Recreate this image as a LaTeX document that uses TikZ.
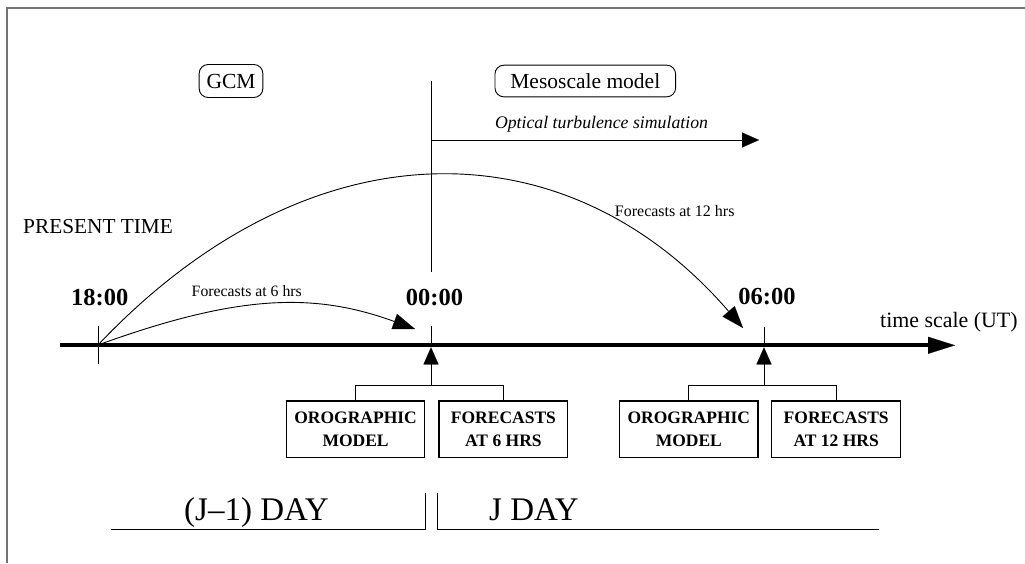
\documentclass[tikz,border=0pt]{standalone}
\usepackage{fontspec}
\setmainfont{Liberation Serif}
\usetikzlibrary{arrows.meta}
\begin{document}
\begin{tikzpicture}[x=1pt,y=-1pt,
  thin/.style={line width=0.9pt},
  rbox/.style={draw, line width=0.9pt, rounded corners=9pt, inner sep=0pt, font=\fontsize{21.5}{25}\selectfont},
  mbox/.style={draw, line width=1.3pt, inner sep=0pt, minimum height=56.3pt, align=center,
     font=\fontsize{17.5}{23.3}\selectfont\bfseries},
  lbl/.style={inner sep=0pt, anchor=base},
  timelbl/.style={lbl, font=\fontsize{24.5}{28}\selectfont\bfseries},
  daylbl/.style={lbl, font=\fontsize{33}{38}\selectfont},
  arcarrow/.style={line width=0.9pt, -{Triangle[length=22pt,width=16pt,line width=0.1pt]}},
  uparrow/.style={line width=0.9pt, -{Triangle[length=17pt,width=15pt,line width=0.1pt]}},
  optarrow/.style={line width=0.9pt, -{Triangle[length=17pt,width=15pt,line width=0.1pt]}},
  axisarrow/.style={line width=4pt, -{Triangle[length=27pt,width=17pt,line width=0.1pt]}}
]
\useasboundingbox (0,0) rectangle (1025,563);
% frame
\draw[line width=2pt, black!55] (6.7,563) -- (6.7,8.3) -- (1025,8.3);

% model boxes
\node[rbox, minimum width=63.7pt, minimum height=33pt] (gcm) at (231,81) {GCM};
\node[rbox, minimum width=180.7pt, minimum height=31.7pt] (meso) at (585.3,81) {Mesoscale model};

% coordinates
\coordinate (a0) at (60,345.3);
\coordinate (a1) at (955,345.3);
\coordinate (t18) at (98,345);
\coordinate (t00) at (431,345);
\coordinate (t06) at (764,345);
\coordinate (e6) at (415,329);
\coordinate (e12) at (743,328);
\coordinate (vtop) at (431,81);
\coordinate (vbot) at (431,272);
\coordinate (o1) at (431,140);
\coordinate (o2) at (759,140);

% vertical 00:00 line and optical arrow
\draw[thin] (vtop) -- (vbot);
\draw[optarrow] (o1) -- (o2);
\node[lbl, font=\fontsize{17.75}{21}\selectfont\itshape] (opt) at (601.5,128.3) {Optical turbulence simulation};

% labels
\node[lbl, anchor=base west, font=\fontsize{21.3}{25}\selectfont] (present) at (23,233.3) {PRESENT TIME};
\node[timelbl] (l18) at (99.8,305.7) {18:00};
\node[timelbl] (l00) at (434.5,305.7) {00:00};
\node[timelbl] (l06) at (767,304.3) {06:00};
\node[lbl, anchor=base west, font=\fontsize{21.9}{25}\selectfont] (ts) at (880,327) {time scale (UT)};
\node[lbl, font=\fontsize{15.8}{19}\selectfont] (f6) at (246.8,296.7) {Forecasts at 6 hrs};
\node[lbl, font=\fontsize{16}{19}\selectfont] (f12) at (674.7,216.7) {Forecasts at 12 hrs};

% ticks
\draw[thin] (98,326) -- (98,364);
\draw[thin] (431,326) -- (t00);
\draw[thin] (764,327) -- (t06);

% axis
\draw[axisarrow] (a0) -- (a1);

% arcs
\draw[arcarrow] (t18) .. controls (310,121) and (567,124) .. (e12);
\draw[arcarrow] (t18) .. controls (241,293) and (316,293) .. (e6);

% bottom boxes
\node[mbox, minimum width=138.1pt] (b1) at (355.6,429.2) {OROGRAPHIC\\MODEL};
\node[mbox, minimum width=128.8pt] (b2) at (503.4,429.2) {FORECASTS\\AT 6 HRS};
\node[mbox, minimum width=138.4pt] (b3) at (688.8,429.2) {OROGRAPHIC\\MODEL};
\node[mbox, minimum width=129.2pt] (b4) at (836.2,429.2) {FORECASTS\\AT 12 HRS};

\coordinate (br1) at (431,385);
\coordinate (br2) at (764,385);
\coordinate (u00) at (431,347.3);
\coordinate (u06) at (764,347.3);
\draw[thin] (b1.north) -- (b1.north |- br1) -- (b2.north |- br1) -- (b2.north);
\draw[thin] (b3.north) -- (b3.north |- br2) -- (b4.north |- br2) -- (b4.north);
\draw[uparrow] (br1) -- (u00);
\draw[uparrow] (br2) -- (u06);

% days
\node[daylbl] (d1) at (256.5,520) {(J–1) DAY};
\node[daylbl] (d2) at (534,520) {J DAY};
\draw[thin] (111,529.3) -- (425,529.3) -- (425,493);
\draw[thin] (437.7,493) -- (437.7,529.3) -- (879,529.3);
\end{tikzpicture}
\end{document}
